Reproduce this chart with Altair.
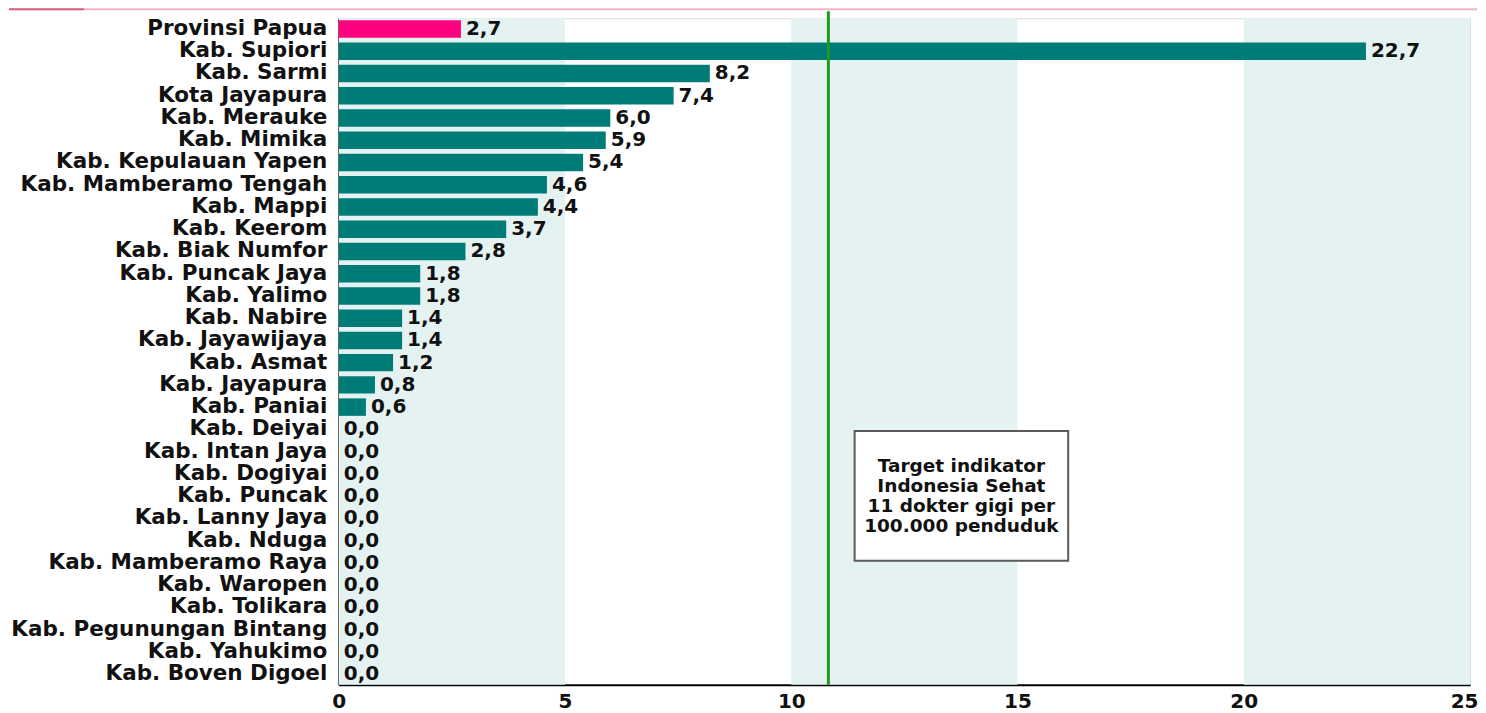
import altair as alt
import pandas as pd

categories = [
    "Provinsi Papua", "Kab. Supiori", "Kab. Sarmi", "Kota Jayapura", "Kab. Merauke",
    "Kab. Mimika", "Kab. Kepulauan Yapen", "Kab. Mamberamo Tengah", "Kab. Mappi",
    "Kab. Keerom", "Kab. Biak Numfor", "Kab. Puncak Jaya", "Kab. Yalimo", "Kab. Nabire",
    "Kab. Jayawijaya", "Kab. Asmat", "Kab. Jayapura", "Kab. Paniai", "Kab. Deiyai",
    "Kab. Intan Jaya", "Kab. Dogiyai", "Kab. Puncak", "Kab. Lanny Jaya", "Kab. Nduga",
    "Kab. Mamberamo Raya", "Kab. Waropen", "Kab. Tolikara", "Kab. Pegunungan Bintang",
    "Kab. Yahukimo", "Kab. Boven Digoel",
]
values = [2.7, 22.7, 8.2, 7.4, 6.0, 5.9, 5.4, 4.6, 4.4, 3.7, 2.8, 1.8, 1.8, 1.4, 1.4,
          1.2, 0.8, 0.6, 0, 0, 0, 0, 0, 0, 0, 0, 0, 0, 0, 0]
groups = ["Provinsi"] + ["Kab"] * (len(categories) - 1)

x_ticks = [0, 5, 10, 15, 20, 25]
band_start = [0, 10, 20]
band_end = [5, 15, 25]
target_value = 10.82
note_lines = ["Target indikator", "Indonesia Sehat", "11 dokter gigi per", "100.000 penduduk"]
note_x = [11.4, 16.12]

FONT = "DejaVu Sans"
W, H = 1132, 667

df = pd.DataFrame({"cat": categories, "val": values, "grp": groups})
df["lab"] = [f"{v:.1f}".replace(".", ",") for v in values]

bands = pd.DataFrame({"x0": band_start, "x1": band_end})

xscale = alt.Scale(domain=[0, 25], nice=False, zero=True)
yscale = alt.Scale(paddingInner=0.214, paddingOuter=0.09)

band_layer = alt.Chart(bands).mark_rect(color="#E5F2F2").encode(
    x=alt.X("x0:Q", scale=xscale,
            axis=alt.Axis(values=x_ticks, grid=False, ticks=False, domainColor="#000",
                          domainWidth=2, labelFont=FONT, labelFontWeight="bold",
                          labelFontSize=20, labelColor="#111", labelPadding=7,
                          title=None, labelFlush=False,
                          labelAlign={"condition": {"test": "datum.value === 25", "value": "right"},
                                      "value": "center"},
                          labelOffset={"condition": {"test": "datum.value === 25", "value": 8},
                                       "value": 0})),
    x2="x1:Q",
    y=alt.value(0),
    y2=alt.value(H),
)

bars = alt.Chart(df).mark_bar().encode(
    x=alt.X("val:Q", scale=xscale),
    y=alt.Y("cat:N", sort=categories, scale=yscale,
            axis=alt.Axis(title=None, ticks=False, domainColor="#000", domainWidth=2,
                          labelFont=FONT, labelFontWeight="bold", labelFontSize=21.5,
                          labelColor="#111", labelPadding=12, labelLimit=400,
                          minExtent=330, maxExtent=330)),
    color=alt.Color("grp:N", scale=alt.Scale(domain=["Provinsi", "Kab"],
                                             range=["#FF0080", "#007C78"]), legend=None),
)

labels = alt.Chart(df).mark_text(
    align="left", baseline="middle", dx=5, font=FONT, fontWeight="bold",
    fontSize=20, color="#111"
).encode(
    x=alt.X("val:Q", scale=xscale),
    y=alt.Y("cat:N", sort=categories, scale=yscale),
    text="lab:N",
)

target = alt.Chart(pd.DataFrame({"t": [target_value]})).mark_rule(
    color="#1E9A1E", strokeWidth=3
).encode(x=alt.X("t:Q", scale=xscale), y=alt.value(-7), y2=alt.value(H))

note_box = alt.Chart(pd.DataFrame({"a": [note_x[0]], "b": [note_x[1]]})).mark_rect(
    fill="white", stroke="#5a5a5a", strokeWidth=2
).encode(x=alt.X("a:Q", scale=xscale), x2="b:Q", y=alt.value(413), y2=alt.value(543))

note_text = alt.Chart(pd.DataFrame({"m": [sum(note_x) / 2], "txt": [note_lines]})).mark_text(
    align="center", baseline="middle", font=FONT, fontWeight="bold", fontSize=18.5,
    lineHeight=20, color="#111"
).encode(x=alt.X("m:Q", scale=xscale), y=alt.value(448), text="txt")

top_light = alt.Chart(pd.DataFrame({"k": [1]})).mark_rule(
    strokeWidth=2, color="#F2B3C4"
).encode(x=alt.value(-255), x2=alt.value(W + 7), y=alt.value(-9))

top_dark = alt.Chart(pd.DataFrame({"k": [1]})).mark_rule(
    strokeWidth=2, color="#D9567A"
).encode(x=alt.value(-330), x2=alt.value(-255), y=alt.value(-9))

chart = alt.layer(band_layer, bars, labels, target, note_box, note_text,
                  top_light, top_dark).properties(
    width=W, height=H, padding={"left": 0, "top": 0, "right": 0, "bottom": 0}
).configure_view(stroke=None).configure(background="white")

chart.save("out.html", embed_options={"renderer": "svg", "actions": False})
